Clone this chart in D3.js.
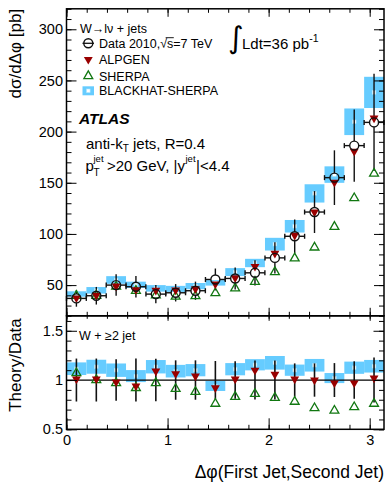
<!DOCTYPE html>
<html>
<head>
<meta charset="utf-8">
<script src="https://cdn.jsdelivr.net/npm/d3@7"></script>
<style>
body { margin: 0; background: #fff; }
text { font-family: "Liberation Sans", Arial, Helvetica, sans-serif; fill: #000; }
</style>
</head>
<body>
<script>
// bins in delta phi (16 bins from 0 to pi)
const binCenters = [0.098, 0.295, 0.491, 0.687, 0.884, 1.080, 1.276, 1.473,
                    1.669, 1.865, 2.062, 2.258, 2.454, 2.651, 2.847, 3.043];
const binHalf = 0.098;

// top panel, dsigma/ddphi [pb]
const dataVals = [37, 39.6, 50, 48.4, 41.2, 42.5, 44.5, 55.5, 56.5, 62, 76.6, 97.7, 121.4, 155, 186.3, 209];
const dataErr  = [8.1, 8.6, 10.5, 10.6, 8.9, 8.5, 8.9, 10.7, 10.7, 12.3, 15.2, 16.5, 20.5, 26.7, 35.4, 47.6];
const alpgen   = [37.4, 40, 49, 45.5, 44.9, 45.2, 46.3, 51.1, 57.1, 68.2, 81, 98.7, 121.4, 150.4, 180.7, 213.2];
const sherpa   = [39.6, 39.6, 48.5, 44.5, 40, 38.7, 39.2, 42.2, 46.9, 53.3, 62.8, 76.2, 86.8, 107, 135, 159];
const blackhat = [41.3, 44.9, 55, 50.3, 46.8, 46.3, 49, 52.2, 62.7, 71.6, 90, 107.5, 139.6, 158, 209.6, 238.3];
const bhRelErr = [0.064, 0.071, 0.068, 0.061, 0.068, 0.064, 0.062, 0.051,
                  0.062, 0.057, 0.069, 0.057, 0.064, 0.051, 0.062, 0.064];

// bottom panel, theory / data
const ratioAlpgen   = [1.01, 1.01, 0.98, 0.94, 1.09, 1.064, 1.04, 0.92, 1.01, 1.10, 1.057, 1.01, 1.0, 0.97, 0.97, 1.02];
const ratioSherpa   = [1.07, 1.0, 0.97, 0.92, 0.97, 0.91, 0.88, 0.76, 0.83, 0.86, 0.82, 0.78, 0.715, 0.69, 0.725, 0.76];
const ratioBlackhat = [1.115, 1.135, 1.10, 1.04, 1.135, 1.09, 1.10, 0.94, 1.11, 1.155, 1.175, 1.10, 1.15, 1.02, 1.125, 1.14];
const ratioDataErr  = [0.218, 0.218, 0.211, 0.218, 0.215, 0.2, 0.2, 0.193, 0.19, 0.198, 0.198, 0.169, 0.169, 0.172, 0.19, 0.228];

const xTicks = [0, 1, 2, 3];
const yTicksTop = [50, 100, 150, 200, 250, 300];
const yTicksRatio = [0.5, 1, 1.5];

const blue = "#66ccff", red = "#990000", green = "#117711";

const W = 386, H = 483;
const left = 66.5, right = 384;
const top0 = 8.8, mid = 315.8, bot = 429.3;

const x = d3.scaleLinear().domain([0, Math.PI]).range([left, right]);
const y = d3.scaleLinear().domain([20, 320]).range([mid, top0]);
const yr = d3.scaleLinear().domain([0.5, 1.652]).range([bot, mid]);

const svg = d3.select("body").append("svg")
    .attr("width", W)
    .attr("height", H);

const pts = binCenters.map((c, i) => ({
    c: c, d: dataVals[i], e: dataErr[i], a: alpgen[i], s: sherpa[i], b: blackhat[i], be: bhRelErr[i],
    ra: ratioAlpgen[i], rs: ratioSherpa[i], rb: ratioBlackhat[i], re: ratioDataErr[i]
}));

const tri = d3.symbol(d3.symbolTriangle, 34);

// ---- top panel ----
const gt = svg.append("g");

gt.selectAll("rect.bh")
    .data(pts)
    .enter().append("rect")
    .attr("x", d => x(d.c - binHalf))
    .attr("width", d => x(d.c + binHalf) - x(d.c - binHalf))
    .attr("y", d => y(d.b * (1 + d.be)))
    .attr("height", d => y(d.b * (1 - d.be)) - y(d.b * (1 + d.be)))
    .attr("fill", blue);

gt.selectAll("rect.bhm")
    .data(pts)
    .enter().append("rect")
    .attr("x", d => x(d.c) - 1.8)
    .attr("y", d => y(d.b) - 1.8)
    .attr("width", 3.6).attr("height", 3.6)
    .attr("fill", "#fff").attr("stroke", "#aee4fb").attr("stroke-width", 0.6);

const r = 4.5;
const eb = gt.append("g").attr("stroke", "#111").attr("stroke-width", 1.4);
pts.forEach(d => {
    const cx = x(d.c), cy = y(d.d);
    const yt = y(d.d + d.e), yb = y(d.d - d.e);
    if (cy - r > yt) eb.append("line").attr("x1", cx).attr("x2", cx).attr("y1", yt).attr("y2", cy - r);
    if (yb > cy + r) eb.append("line").attr("x1", cx).attr("x2", cx).attr("y1", cy + r).attr("y2", yb);
    const xl = x(d.c - binHalf), xh = x(d.c + binHalf);
    eb.append("line").attr("x1", xl).attr("x2", cx - r).attr("y1", cy).attr("y2", cy);
    eb.append("line").attr("x1", cx + r).attr("x2", xh).attr("y1", cy).attr("y2", cy);
    eb.append("line").attr("x1", xl).attr("x2", xl).attr("y1", cy - 2.5).attr("y2", cy + 2.5);
    eb.append("line").attr("x1", xh).attr("x2", xh).attr("y1", cy - 2.5).attr("y2", cy + 2.5);
});

gt.selectAll("path.sh")
    .data(pts)
    .enter().append("path")
    .attr("d", tri)
    .attr("transform", d => "translate(" + x(d.c) + "," + y(d.s) + ")")
    .attr("fill", "none").attr("stroke", green).attr("stroke-width", 1.3);

gt.selectAll("path.al")
    .data(pts)
    .enter().append("path")
    .attr("d", tri)
    .attr("transform", d => "translate(" + x(d.c) + "," + y(d.a) + ") rotate(180)")
    .attr("fill", red);

gt.selectAll("circle.data")
    .data(pts)
    .enter().append("circle")
    .attr("cx", d => x(d.c))
    .attr("cy", d => y(d.d))
    .attr("r", r)
    .attr("fill", "none").attr("stroke", "#111").attr("stroke-width", 1.4);

// ---- bottom panel ----
const gb = svg.append("g");

gb.selectAll("rect.bh")
    .data(pts)
    .enter().append("rect")
    .attr("x", d => x(d.c - binHalf))
    .attr("width", d => x(d.c + binHalf) - x(d.c - binHalf))
    .attr("y", d => yr(d.rb + d.be))
    .attr("height", d => yr(d.rb - d.be) - yr(d.rb + d.be))
    .attr("fill", blue);

gb.selectAll("rect.bhm")
    .data(pts)
    .enter().append("rect")
    .attr("x", d => x(d.c) - 1.8)
    .attr("y", d => yr(d.rb) - 1.8)
    .attr("width", 3.6).attr("height", 3.6)
    .attr("fill", "#fff").attr("stroke", "#aee4fb").attr("stroke-width", 0.6);

gb.append("line")
    .attr("x1", left).attr("x2", right)
    .attr("y1", yr(1)).attr("y2", yr(1))
    .attr("stroke", "#000").attr("stroke-width", 1.2);

gb.selectAll("line.err")
    .data(pts)
    .enter().append("line")
    .attr("x1", d => x(d.c)).attr("x2", d => x(d.c))
    .attr("y1", d => yr(1 + d.re)).attr("y2", d => yr(1 - d.re))
    .attr("stroke", "#111").attr("stroke-width", 1.6);

gb.selectAll("path.sh")
    .data(pts)
    .enter().append("path")
    .attr("d", tri)
    .attr("transform", d => "translate(" + x(d.c) + "," + yr(d.rs) + ")")
    .attr("fill", "none").attr("stroke", green).attr("stroke-width", 1.3);

gb.selectAll("path.al")
    .data(pts)
    .enter().append("path")
    .attr("d", tri)
    .attr("transform", d => "translate(" + x(d.c) + "," + yr(d.ra) + ") rotate(180)")
    .attr("fill", red);

// ---- axes ----
function styleAxis(g) {
    g.select(".domain").remove();
    g.selectAll("line").attr("stroke", "#000").attr("stroke-width", 1);
    g.selectAll("text").style("font-size", "14.5px").attr("fill", "#000");
}

const minorTop = d3.range(20, 321, 10);
const minorRatio = d3.range(0.5, 1.66, 0.1);
const minorX = d3.range(0, 3.15, 0.2);

// top panel y
svg.append("g").attr("transform", "translate(" + left + ",0)")
    .call(d3.axisLeft(y).tickValues(yTicksTop).tickSize(-10).tickPadding(3.5)).call(styleAxis);
svg.append("g").attr("transform", "translate(" + left + ",0)")
    .call(d3.axisLeft(y).tickValues(minorTop).tickSize(-5).tickFormat("")).call(styleAxis);
svg.append("g").attr("transform", "translate(" + right + ",0)")
    .call(d3.axisRight(y).tickValues(yTicksTop).tickSize(-10).tickFormat("")).call(styleAxis);
svg.append("g").attr("transform", "translate(" + right + ",0)")
    .call(d3.axisRight(y).tickValues(minorTop).tickSize(-5).tickFormat("")).call(styleAxis);

// top panel x (top and bottom edges)
svg.append("g").attr("transform", "translate(0," + top0 + ")")
    .call(d3.axisTop(x).tickValues(xTicks).tickSize(-8).tickFormat("")).call(styleAxis);
svg.append("g").attr("transform", "translate(0," + top0 + ")")
    .call(d3.axisTop(x).tickValues(minorX).tickSize(-4).tickFormat("")).call(styleAxis);
svg.append("g").attr("transform", "translate(0," + mid + ")")
    .call(d3.axisBottom(x).tickValues(xTicks).tickSize(-8).tickFormat("")).call(styleAxis);
svg.append("g").attr("transform", "translate(0," + mid + ")")
    .call(d3.axisBottom(x).tickValues(minorX).tickSize(-4).tickFormat("")).call(styleAxis);

// ratio panel
svg.append("g").attr("transform", "translate(0," + mid + ")")
    .call(d3.axisTop(x).tickValues(xTicks).tickSize(-5).tickFormat("")).call(styleAxis);
svg.append("g").attr("transform", "translate(0," + mid + ")")
    .call(d3.axisTop(x).tickValues(minorX).tickSize(-3).tickFormat("")).call(styleAxis);
svg.append("g").attr("transform", "translate(0," + bot + ")")
    .call(d3.axisBottom(x).tickValues(xTicks).tickSize(-11).tickPadding(5.6).tickFormat(d3.format("d"))).call(styleAxis);
svg.append("g").attr("transform", "translate(0," + bot + ")")
    .call(d3.axisBottom(x).tickValues(minorX).tickSize(-4.5).tickFormat("")).call(styleAxis);
svg.append("g").attr("transform", "translate(" + left + ",0)")
    .call(d3.axisLeft(yr).tickValues(yTicksRatio).tickSize(-10.5).tickPadding(3.5).tickFormat(d => d === 1 ? "1" : d)).call(styleAxis);
svg.append("g").attr("transform", "translate(" + left + ",0)")
    .call(d3.axisLeft(yr).tickValues(minorRatio).tickSize(-5).tickFormat("")).call(styleAxis);
svg.append("g").attr("transform", "translate(" + right + ",0)")
    .call(d3.axisRight(yr).tickValues(yTicksRatio).tickSize(-10.5).tickFormat("")).call(styleAxis);
svg.append("g").attr("transform", "translate(" + right + ",0)")
    .call(d3.axisRight(yr).tickValues(minorRatio).tickSize(-5).tickFormat("")).call(styleAxis);

// frames
svg.append("rect").attr("x", left).attr("y", top0).attr("width", right - left).attr("height", mid - top0)
    .attr("fill", "none").attr("stroke", "#000").attr("stroke-width", 1.5);
svg.append("rect").attr("x", left).attr("y", mid).attr("width", right - left).attr("height", bot - mid)
    .attr("fill", "none").attr("stroke", "#000").attr("stroke-width", 1.5);

// axis titles
svg.append("text")
    .attr("transform", "translate(21," + top0 + ") rotate(-90)")
    .attr("text-anchor", "end")
    .style("font-size", "17px")
    .text("dσ/dΔφ [pb]");
svg.append("text")
    .attr("transform", "translate(21,365) rotate(-90)")
    .attr("text-anchor", "middle")
    .style("font-size", "17px")
    .text("Theory/Data");
svg.append("text")
    .attr("x", right).attr("y", 478)
    .attr("text-anchor", "end")
    .style("font-size", "17.5px")
    .text("Δφ(First Jet,Second Jet)");

// ---- legend and labels ----
const legendNames = ["Data 2010,√s=7 TeV", "ALPGEN", "SHERPA", "BLACKHAT-SHERPA"];
const legY = [43.3, 59.5, 76, 90.8];
const lg = svg.append("g");

lg.append("text").attr("x", 80).attr("y", 33).style("font-size", "12.5px").text("W→lν + jets");

lg.append("line").attr("x1", 82.5).attr("x2", 94).attr("y1", legY[0]).attr("y2", legY[0])
    .attr("stroke", "#111").attr("stroke-width", 1.3);
lg.append("circle").attr("cx", 88.3).attr("cy", legY[0]).attr("r", r)
    .attr("fill", "none").attr("stroke", "#111").attr("stroke-width", 1.4);
lg.append("path").attr("d", tri).attr("transform", "translate(88.3," + legY[1] + ") rotate(180)").attr("fill", red);
lg.append("path").attr("d", tri).attr("transform", "translate(88.3," + legY[2] + ")")
    .attr("fill", "none").attr("stroke", green).attr("stroke-width", 1.3);
lg.append("rect").attr("x", 82.5).attr("y", legY[3] - 4.5).attr("width", 11.5).attr("height", 9).attr("fill", blue);
lg.append("rect").attr("x", 86.5).attr("y", legY[3] - 1.8).attr("width", 3.6).attr("height", 3.6)
    .attr("fill", "#fff").attr("stroke", "#aee4fb").attr("stroke-width", 0.6);

legendNames.forEach((n, i) => {
    const t = lg.append("text").attr("x", 99).attr("y", legY[i] + 4.5).style("font-size", "12.5px").text(n);
    if (i === 0) {
        const node = t.node();
        const k = n.indexOf("√");
        const x0 = node.getStartPositionOfChar(k).x + 5.5;
        const x1 = node.getEndPositionOfChar(k + 1).x + 0.5;
        lg.append("line").attr("x1", x0).attr("x2", x1)
            .attr("y1", legY[i] - 5.6).attr("y2", legY[i] - 5.6)
            .attr("stroke", "#000").attr("stroke-width", 0.9);
    }
});

// luminosity
svg.append("text").attr("x", 228).attr("y", 47.5)
    .style("font-family", "DejaVu Sans").style("font-size", "30px").text("∫");
svg.append("text").attr("x", 242).attr("y", 48.5).style("font-size", "15px")
    .text("Ldt=36 pb")
    .append("tspan").attr("dy", -7).style("font-size", "10.5px").text("-1");

svg.append("text").attr("x", 79).attr("y", 123.5)
    .style("font-size", "15.5px").style("font-weight", "bold").style("font-style", "italic")
    .text("ATLAS");

const ak = svg.append("text").attr("x", 86).attr("y", 148.8).style("font-size", "15px");
ak.append("tspan").text("anti-k");
ak.append("tspan").attr("dy", 3.5).style("font-size", "10px").text("T");
ak.append("tspan").attr("dy", -3.5).text(" jets, R=0.4");

svg.append("text").attr("x", 85.5).attr("y", 170.6).style("font-size", "15px").text("p");
svg.append("text").attr("x", 93.5).attr("y", 175.8).style("font-size", "10px").text("T");
svg.append("text").attr("x", 93.5).attr("y", 161.5).style("font-size", "9.5px").text("jet");
const pt = svg.append("text").attr("x", 107).attr("y", 170.6).style("font-size", "15px").text(">20 GeV, |y");
const ptEnd = 107 + pt.node().getComputedTextLength();
const sup = svg.append("text").attr("x", ptEnd + 0.5).attr("y", 161.5).style("font-size", "9.5px").text("jet");
const supEnd = ptEnd + 0.5 + sup.node().getComputedTextLength();
svg.append("text").attr("x", supEnd + 0.5).attr("y", 170.6).style("font-size", "15px").text("|<4.4");

svg.append("text").attr("x", 79).attr("y", 339.5).style("font-size", "12.5px").text("W + ≥2 jet");
</script>
</body>
</html>
